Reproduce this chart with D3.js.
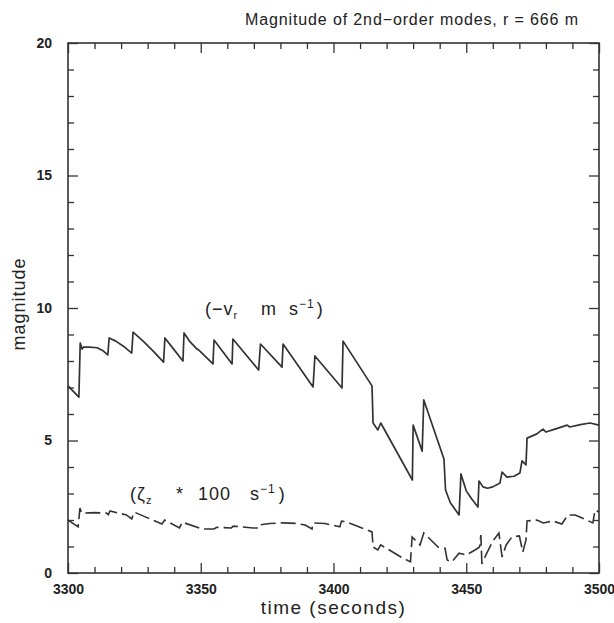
<!DOCTYPE html>
<html>
<head>
<meta charset="utf-8">
<script src="https://cdn.jsdelivr.net/npm/d3@7"></script>
<style>
  body { margin: 0; background: #fff; }
  svg { display: block; font-family: "Liberation Sans", Arial, sans-serif; }
</style>
</head>
<body>
<div id="chart"></div>
<script>
// Radial velocity (-v_r), m/s : [time, value]
const vrTimes = [3300, 3304.1, 3304.6, 3305.3, 3305.8, 3308, 3311, 3313, 3315, 3315.5, 3318, 3321, 3324, 3324.5,
  3328, 3332, 3336, 3336.5, 3340, 3343.3, 3343.7, 3346, 3348.6, 3349.2, 3354.6, 3355, 3361.8, 3362.1,
  3371.8, 3372.5, 3380.6, 3381, 3392.3, 3393, 3403.2, 3403.6, 3414.5, 3414.9, 3416.7, 3417.8, 3429.7,
  3430, 3433.4, 3434, 3441.6, 3442.2, 3444, 3447.3, 3448, 3450, 3452, 3454.4, 3454.8, 3456.3, 3458,
  3460, 3462.7, 3463.5, 3465.3, 3468, 3470.2, 3471, 3472.5, 3472.9, 3476.6, 3478.9, 3480, 3484, 3488,
  3489, 3493, 3496.6, 3500];
const vrValues = [7.06, 6.64, 8.68, 8.45, 8.52, 8.52, 8.5, 8.4, 8.23, 8.87, 8.75, 8.55, 8.30, 9.09,
  8.78, 8.38, 7.96, 8.87, 8.42, 8.0, 9.06, 8.72, 8.45, 8.42, 7.89, 8.79, 7.89, 8.83,
  7.66, 8.64, 7.77, 8.64, 7.02, 8.19, 6.98, 8.75, 7.06, 5.66, 5.4, 5.66, 3.51,
  5.58, 4.6, 6.53, 4.3, 3.13, 2.65, 2.19, 3.74, 3.1, 2.8, 2.49, 3.47, 3.25, 3.2,
  3.25, 3.4, 3.81, 3.62, 3.65, 3.77, 4.23, 4.08, 5.09, 5.25, 5.43, 5.32, 5.45, 5.58,
  5.51, 5.6, 5.66, 5.58];

// Vertical vorticity (zeta_z * 100), 1/s
const zetaTimes = [3300, 3303.8, 3304.5, 3305.2, 3310, 3314.5, 3315.2, 3315.8, 3322, 3324, 3324.9, 3330,
  3335.4, 3336.4, 3342, 3343, 3350.5, 3355, 3356, 3361.5, 3362.3, 3369.7, 3371.6, 3372, 3376, 3381,
  3386, 3389.3, 3391.9, 3392.3, 3396.8, 3402.4, 3403, 3405, 3414.5, 3414.9, 3416.7, 3417.8, 3426,
  3429, 3429.6, 3432.6, 3434, 3439.4, 3442, 3442.8, 3444.6, 3447.3, 3450, 3453.3, 3455, 3455.5,
  3455.9, 3457.5, 3460, 3462.3, 3463.5, 3465, 3467.2, 3470, 3471.3, 3472.5, 3472.9, 3476.6, 3479,
  3482.7, 3486, 3488.3, 3491, 3492.8, 3497.7, 3498.5, 3500];
const zetaValues = [2.0, 1.74, 2.45, 2.26, 2.28, 2.26, 2.2, 2.34, 2.19, 2.04, 2.3, 2.08,
  1.85, 2.0, 1.7, 1.92, 1.66, 1.66, 1.72, 1.7, 1.77, 1.7, 1.7, 1.81, 1.87, 1.89,
  1.87, 1.81, 1.66, 1.89, 1.87, 1.74, 1.96, 1.92, 1.55, 0.98, 0.87, 1.06, 0.57,
  0.42, 1.36, 1.06, 1.51, 0.98, 0.94, 0.49, 0.42, 0.75, 0.68, 0.87, 0.98, 1.43,
  0.34, 0.7, 1.2, 1.51, 0.6, 1.05, 1.36, 1.4, 0.79, 1.25, 1.96, 2.0, 1.89,
  1.96, 1.85, 2.19, 2.19, 2.11, 1.89, 2.38, 2.3];

const xMajorTicks = [3300, 3350, 3400, 3450, 3500];
const yMajorTicks = [0, 5, 10, 15, 20];

const W = 614, H = 623;
const plotLeft = 68, plotRight = 599, plotTop = 43, plotBottom = 573;
const ink = '#333';

const svg = d3.select('#chart').append('svg')
  .attr('width', W)
  .attr('height', H);

const x = d3.scaleLinear().domain([3300, 3500]).range([plotLeft, plotRight]);
const y = d3.scaleLinear().domain([0, 20]).range([plotBottom, plotTop]);

const xMinor = d3.range(3300, 3501, 10).filter(d => d % 50 !== 0);
const yMinor = d3.range(0, 21, 1).filter(d => d % 5 !== 0);

function styleAxis(g) {
  g.select('.domain').remove();
  g.selectAll('line').attr('stroke', ink).attr('stroke-width', 1.3);
  g.selectAll('text')
    .attr('fill', '#222')
    .style('font-size', '14px')
    .style('font-weight', 'bold')
    .style('font-family', '"Liberation Sans", Arial, sans-serif');
}

// Bottom axis (labels) + minor ticks
svg.append('g')
  .attr('transform', `translate(0,${plotBottom})`)
  .call(d3.axisBottom(x).tickValues(xMajorTicks).tickSize(-10).tickSizeOuter(0).tickPadding(11).tickFormat(d3.format('d')))
  .call(styleAxis);
svg.append('g')
  .attr('transform', `translate(0,${plotBottom})`)
  .call(d3.axisBottom(x).tickValues(xMinor).tickSize(-6).tickSizeOuter(0).tickFormat(''))
  .call(styleAxis);

// Top axis ticks
svg.append('g')
  .attr('transform', `translate(0,${plotTop})`)
  .call(d3.axisTop(x).tickValues(xMajorTicks).tickSize(-10).tickSizeOuter(0).tickFormat(''))
  .call(styleAxis);
svg.append('g')
  .attr('transform', `translate(0,${plotTop})`)
  .call(d3.axisTop(x).tickValues(xMinor).tickSize(-6).tickSizeOuter(0).tickFormat(''))
  .call(styleAxis);

// Left axis (labels) + minor ticks
svg.append('g')
  .attr('transform', `translate(${plotLeft},0)`)
  .call(d3.axisLeft(y).tickValues(yMajorTicks).tickSize(-10).tickSizeOuter(0).tickPadding(16))
  .call(styleAxis);
svg.append('g')
  .attr('transform', `translate(${plotLeft},0)`)
  .call(d3.axisLeft(y).tickValues(yMinor).tickSize(-6).tickSizeOuter(0).tickFormat(''))
  .call(styleAxis);

// Right axis ticks
svg.append('g')
  .attr('transform', `translate(${plotRight},0)`)
  .call(d3.axisRight(y).tickValues(yMajorTicks).tickSize(-10).tickSizeOuter(0).tickFormat(''))
  .call(styleAxis);
svg.append('g')
  .attr('transform', `translate(${plotRight},0)`)
  .call(d3.axisRight(y).tickValues(yMinor).tickSize(-6).tickSizeOuter(0).tickFormat(''))
  .call(styleAxis);

// Frame
svg.append('rect')
  .attr('x', plotLeft)
  .attr('y', plotTop)
  .attr('width', plotRight - plotLeft)
  .attr('height', plotBottom - plotTop)
  .attr('fill', 'none')
  .attr('stroke', ink)
  .attr('stroke-width', 1.6);

// Series
const line = d3.line()
  .x(d => x(d[0]))
  .y(d => y(d[1]));

svg.append('path')
  .datum(d3.zip(vrTimes, vrValues))
  .attr('fill', 'none')
  .attr('stroke', ink)
  .attr('stroke-width', 1.7)
  .attr('stroke-linejoin', 'round')
  .attr('d', line);

svg.append('path')
  .datum(d3.zip(zetaTimes, zetaValues))
  .attr('fill', 'none')
  .attr('stroke', ink)
  .attr('stroke-width', 1.6)
  .attr('stroke-dasharray', '15,5')
  .attr('d', line);

// Series labels
const lab1 = svg.append('text')
  .attr('y', 315)
  .attr('fill', '#222')
  .style('font-size', '18px')
  .style('letter-spacing', '1px');
lab1.append('tspan').attr('x', 205).text('(−v');
lab1.append('tspan').attr('dy', 4).style('font-size', '11px').text('r');
lab1.append('tspan').attr('x', 261).attr('dy', -4).text('m');
lab1.append('tspan').attr('x', 289).text('s');
lab1.append('tspan').attr('dy', -7).style('font-size', '12px').text('−1');
lab1.append('tspan').attr('dy', 7).attr('dx', 2).text(')');

const lab2 = svg.append('text')
  .attr('y', 500)
  .attr('fill', '#222')
  .style('font-size', '18px')
  .style('letter-spacing', '1px');
lab2.append('tspan').attr('x', 130).text('(ζ');
lab2.append('tspan').attr('dy', 4).style('font-size', '11px').text('z');
lab2.append('tspan').attr('x', 176).attr('dy', -4).text('*');
lab2.append('tspan').attr('x', 198).text('100');
lab2.append('tspan').attr('x', 250).text('s');
lab2.append('tspan').attr('dy', -7).style('font-size', '12px').text('−1');
lab2.append('tspan').attr('dy', 7).attr('dx', 3).text(')');

// Title
svg.append('text')
  .attr('x', 245)
  .attr('y', 25)
  .attr('fill', '#222')
  .attr('textLength', 333)
  .attr('lengthAdjust', 'spacing')
  .style('font-size', '16px')
  .text('Magnitude of 2nd−order modes, r = 666 m');

// Axis titles
svg.append('text')
  .attr('x', (plotLeft + plotRight) / 2)
  .attr('y', 614)
  .attr('text-anchor', 'middle')
  .attr('fill', '#222')
  .style('font-size', '19px')
  .style('letter-spacing', '1.5px')
  .text('time (seconds)');

svg.append('text')
  .attr('transform', `translate(25,${(plotTop + plotBottom) / 2 - 4}) rotate(-90)`)
  .attr('text-anchor', 'middle')
  .attr('fill', '#222')
  .style('font-size', '18px')
  .style('letter-spacing', '1px')
  .text('magnitude');
</script>
</body>
</html>
